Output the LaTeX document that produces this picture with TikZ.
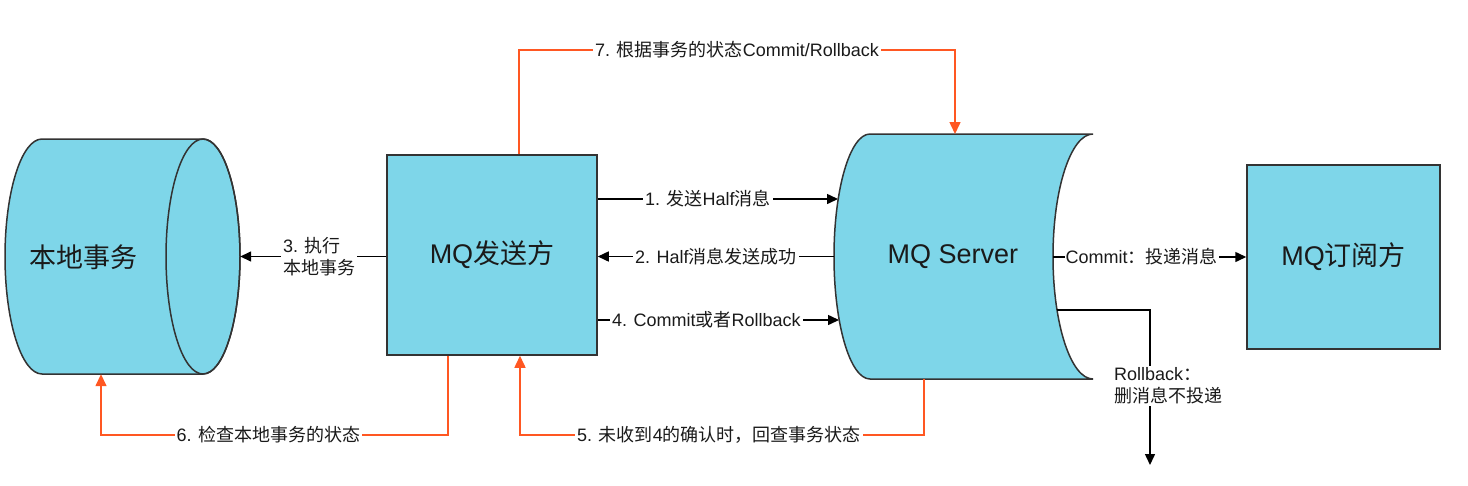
\documentclass[tikz,border=0pt]{standalone}
\usepackage{fontspec}
\setmainfont{Liberation Sans}
\newfontfamily\zhfont{Noto Sans CJK SC}
\newcommand\zh[1]{{\zhfont #1}}
\usetikzlibrary{arrows.meta}
\definecolor{boxfill}{RGB}{126,214,233}
\definecolor{edgecol}{RGB}{51,51,51}
\definecolor{orng}{RGB}{255,87,34}
\definecolor{txt}{RGB}{26,26,26}
\begin{document}
\begin{tikzpicture}[x=1pt,y=-1pt,
  shapeline/.style={draw=edgecol, line width=1.5pt, fill=boxfill},
  boxnode/.style={shapeline, rectangle, inner sep=0pt, font=\fontsize{27}{32}\selectfont, text=txt},
  bignote/.style={font=\fontsize{27}{32}\selectfont, text=txt, inner sep=0pt},
  lbl/.style={font=\fontsize{18}{22}\selectfont, text=txt, fill=white, inner sep=2pt},
  blk/.style={draw=black, line width=1.5pt, -{Triangle[length=11pt,width=10pt]}},
  org/.style={draw=orng, line width=1.5pt, -{Triangle[length=12pt,width=11pt]}},
]
\useasboundingbox (0,0) rectangle (1468,485);

% local transaction cylinder
\path[shapeline] (42,139) -- (203,139)
  arc[start angle=90,end angle=-90,x radius=37pt,y radius=117.5pt]
  -- (42,374)
  arc[start angle=270,end angle=90,x radius=37pt,y radius=117.5pt] -- cycle;
\draw[draw=edgecol, line width=1.5pt] (203,256.5) ellipse[x radius=37pt, y radius=117.5pt];
\node[inner sep=0pt, minimum width=235pt, minimum height=235pt] (local) at (122.5,256.5) {};
\node[bignote] (localtxt) at (84,257) {\zh{本地事务}};

% sender
\node[boxnode, minimum width=210pt, minimum height=200pt] (sender) at (492,255) {MQ\zh{发送方}};

% server
\path[shapeline] (870,134) -- (1093,134)
  arc[start angle=90,end angle=270,x radius=40pt,y radius=122.5pt]
  -- (870,379)
  arc[start angle=270,end angle=90,x radius=36pt,y radius=122.5pt] -- cycle;
\node[bignote] (server) at (953,257) {MQ Server};
\coordinate (srvIn1) at (838,199);
\coordinate (srvOut2) at (834,256.5);
\coordinate (srvIn4) at (839,320);
\coordinate (srvTop) at (955,134);
\coordinate (srvBot) at (924,379);
\coordinate (srvCommit) at (1053,257);
\coordinate (srvRb) at (1057,310);
\coordinate (rbEnd) at (1150,465);

% subscriber
\node[boxnode, minimum width=193pt, minimum height=184pt] (sub) at (1343.5,257) {MQ\zh{订阅方}};

% black connectors
\draw[blk] (sender.east |- srvIn1) -- node[lbl, xshift=-10pt] {1. \zh{发送}Half\zh{消息}} (srvIn1);
\draw[blk] (srvOut2) -- node[lbl] {2. Half\zh{消息发送成功}} (sender.east |- srvOut2);
\draw[blk] (sender.east |- srvIn4) -- node[lbl, xshift=-12pt] {4. Commit\zh{或者}Rollback} (srvIn4);
\draw[blk] (sender.west |- local.east) -- node[lbl, align=left, xshift=6pt] {3. \zh{执行}\\\zh{本地事务}} (local.east);
\draw[blk] (srvCommit) -- node[lbl, inner sep=1pt, xshift=-8pt] {Commit\zh{：投递消息}} (sub.west |- srvCommit);
\draw[blk] (srvRb) -| (rbEnd);
\node[lbl, align=left, anchor=west] (rblbl) at (1112,386) {Rollback\zh{：}\\\zh{删消息不投递}};

% orange connectors
\coordinate (c7) at (519,50);
\draw[org] (sender.north -| c7) -- (c7) -- node[lbl] {7. \zh{根据事务的状态}Commit/Rollback} (srvTop |- c7) -- (srvTop);
\coordinate (c6a) at (448,435);
\coordinate (c6b) at (101,435);
\draw[org] (sender.south -| c6a) -- (c6a) -- node[lbl, xshift=-6pt] {6. \zh{检查本地事务的状态}} (c6b) -- (local.south -| c6b);
\coordinate (c5a) at (924,435);
\coordinate (c5b) at (520,435);
\draw[org] (srvBot) -- (c5a) -- node[lbl, xshift=-3pt] {5. \zh{未收到}4\zh{的确认时，回查事务状态}} (c5b) -- (sender.south -| c5b);
\end{tikzpicture}
\end{document}
